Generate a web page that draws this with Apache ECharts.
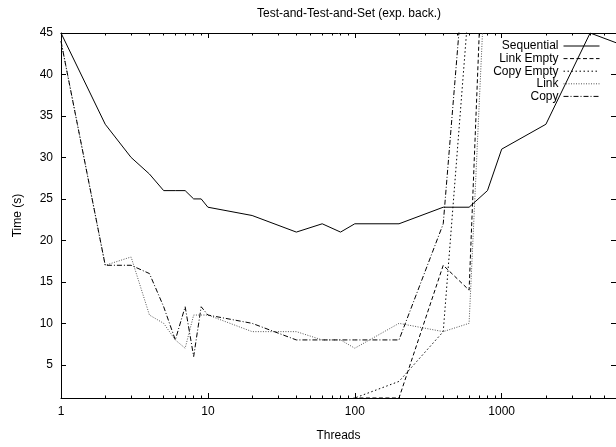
<!doctype html>
<html lang="en">
<head>
  <meta charset="UTF-8">
  <script src="https://cdn.jsdelivr.net/npm/echarts@6/dist/echarts.min.js"></script>
  <title>Test-and-Test-and-Set</title>
  <style type="text/css">
    html, body {
      width: 100%;
      height: 100%;
      margin: 0;
      padding: 0;
      background-color: #ffffff;
    }

    #canvas {
      width: 616px;
      height: 447px;
    }
  </style>
</head>

<body>
<div id="canvas"></div>

<script type="text/javascript">
  const threads = [1, 2, 3, 4, 5, 6, 7, 8, 9, 10, 20, 40, 60, 80, 100, 200, 400, 600, 800, 1000, 2000, 4000, 8000]

  const sequential = [45, 34, 30, 28, 26, 26, 26, 25, 25, 24, 23, 21, 22, 21, 22, 22, 24, 24, 26, 31, 34, 45, 43]
  const linkEmpty = [0.5, 0.5, 0.5, 0.5, 0.5, 0.5, 0.5, 0.5, 0.5, 0.5, 0.5, 0.5, 0.5, 0.5, 1, 1, 17, 14, 70]
  const copyEmpty = [0.5, 0.5, 0.5, 0.5, 0.5, 0.5, 0.5, 0.5, 0.5, 0.5, 0.5, 0.5, 0.5, 0.5, 1, 3, 9, 49]
  const link = [44, 17, 18, 11, 10, 8, 7, 11, 11, 11, 9, 9, 8, 8, 7, 10, 9, 10, 58]
  const copy = [44, 17, 17, 16, 12, 8, 12, 6, 12, 11, 10, 8, 8, 8, 8, 8, 22, 60]

  const xLabels = [1, 10, 100, 1000]
  const xMinor = [2, 3, 4, 5, 6, 7, 8, 9, 20, 30, 40, 50, 60, 70, 80, 90,
    200, 300, 400, 500, 600, 700, 800, 900, 2000, 3000, 4000, 5000]
  const yLabels = [5, 10, 15, 20, 25, 30, 35, 40, 45]

  const font = 'Liberation Sans, Arial, sans-serif'
  const pairs = values => values.map((v, i) => [threads[i], v])

  const chart = echarts.init(document.getElementById('canvas'))

  const xBase = (position, ticks, len, showLine) => ({
    type: 'log',
    logBase: 10,
    min: 1,
    max: 6000,
    position: position,
    axisLine: { show: showLine, onZero: false, lineStyle: { color: '#000', width: 1 } },
    axisTick: { show: true, inside: true, length: len, customValues: ticks, lineStyle: { color: '#000' } },
    axisLabel: { show: false },
    splitLine: { show: false },
  })

  const yBase = (position) => ({
    type: 'value',
    min: 1,
    max: 45,
    position: position,
    axisLine: { show: true, onZero: false, lineStyle: { color: '#000', width: 1 } },
    axisTick: { show: true, inside: true, length: 5, customValues: yLabels, lineStyle: { color: '#000' } },
    axisLabel: { show: false },
    splitLine: { show: false },
  })

  const bottom = xBase('bottom', xLabels, 5, true)
  bottom.name = 'Threads'
  bottom.nameLocation = 'middle'
  bottom.nameGap = 32
  bottom.nameTextStyle = { color: '#000', fontSize: 12, fontFamily: font }
  bottom.axisLabel = {
    show: true,
    margin: 8,
    color: '#000',
    fontSize: 12,
    fontFamily: font,
    customValues: xLabels,
    formatter: v => String(Math.round(v)),
  }

  const left = yBase('left')
  left.name = 'Time (s)'
  left.nameLocation = 'middle'
  left.nameGap = 37
  left.nameTextStyle = { color: '#000', fontSize: 12, fontFamily: font }
  left.axisLabel = {
    show: true,
    margin: 8,
    color: '#000',
    fontSize: 12,
    fontFamily: font,
    customValues: yLabels,
  }

  const line = (name, values, type, color) => ({
    name: name,
    type: 'line',
    data: pairs(values),
    symbol: 'none',
    showSymbol: false,
    clip: true,
    animation: false,
    lineStyle: { width: 1, color: color, type: type },
    itemStyle: { color: color },
  })

  chart.setOption({
    animation: false,
    title: {
      text: 'Test-and-Test-and-Set (exp. back.)',
      left: 344,
      top: 3,
      textAlign: 'center',
      textStyle: { color: '#000', fontSize: 12, fontWeight: 'normal', fontFamily: font },
    },
    grid: { left: 61, top: 33, width: 559, height: 371, containLabel: false },
    legend: {
      orient: 'vertical',
      align: 'right',
      right: 11,
      top: 35,
      itemWidth: 36,
      itemHeight: 12,
      itemGap: 0.6,
      itemStyle: { opacity: 0 },
      lineStyle: { width: 1 },
      textStyle: { color: '#000', fontSize: 12, fontFamily: font, lineHeight: 12 },
      data: ['Sequential', 'Link Empty', 'Copy Empty', 'Link', 'Copy'],
    },
    xAxis: [
      bottom,
      xBase('bottom', xMinor, 2.5, false),
      xBase('top', xLabels, 5, true),
      xBase('top', xMinor, 2.5, false),
    ],
    yAxis: [
      left,
      yBase('right'),
    ],
    series: [
      line('Sequential', sequential, 'solid', '#000'),
      line('Link Empty', linkEmpty, [4, 2.5], '#000'),
      line('Copy Empty', copyEmpty, [1.5, 2.5], '#000'),
      line('Link', link, [1, 1.5], '#555'),
      line('Copy', copy, [5, 2, 1, 2], '#000'),
    ],
  })
</script>
</body>
</html>
